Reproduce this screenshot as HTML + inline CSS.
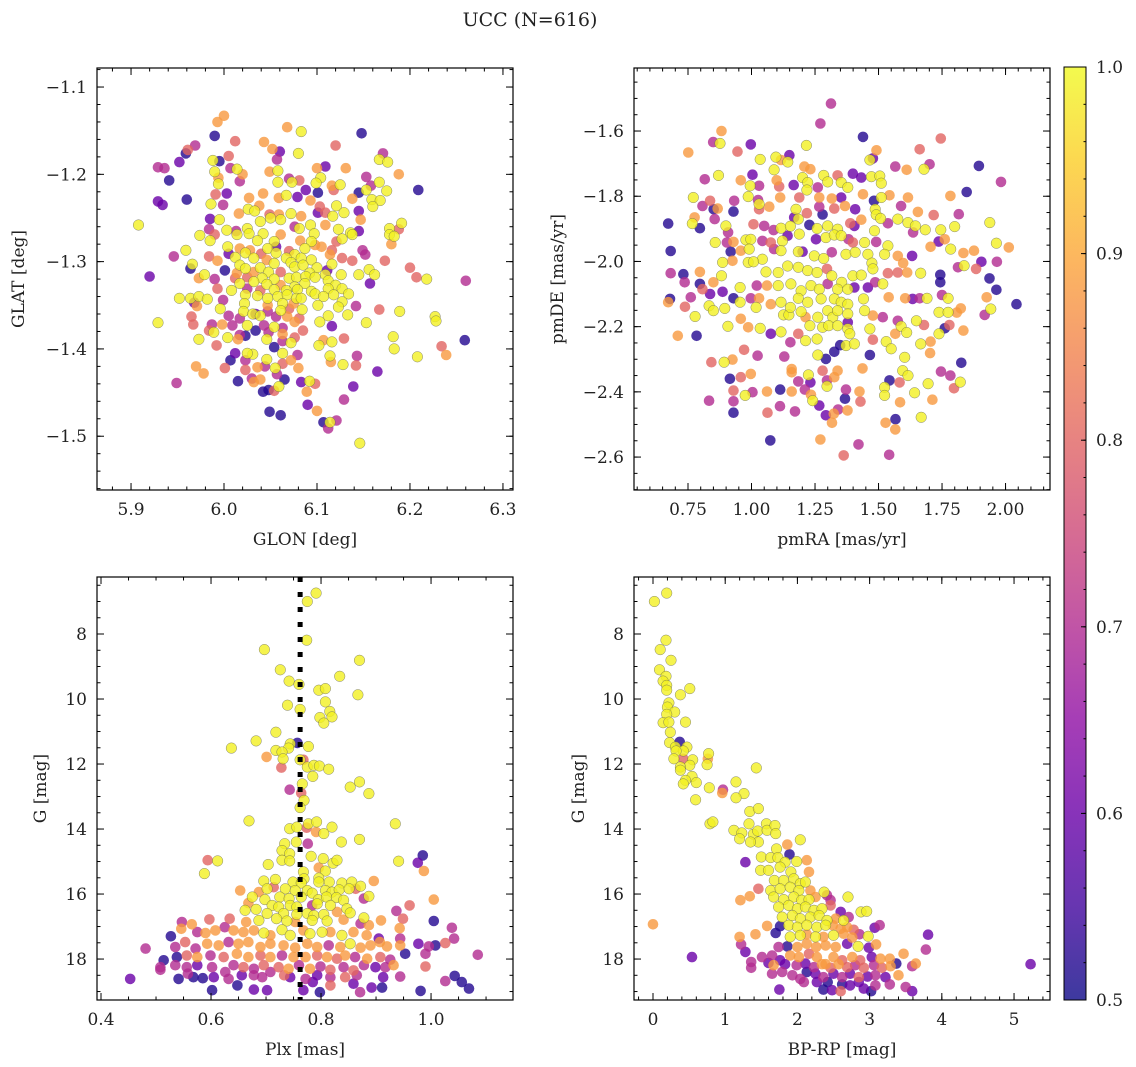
<!DOCTYPE html>
<html><head><meta charset="utf-8"><title>UCC (N=616)</title>
<style>
html,body{margin:0;padding:0;background:#fff;}
svg{display:block;font-family:"DejaVu Serif","Liberation Serif",serif;}
</style></head>
<body>
<svg id="fig" width="1136" height="1067" viewBox="0 0 1136 1067" xmlns="http://www.w3.org/2000/svg">
<rect width="1136" height="1067" fill="#fff"/>
<text x="530" y="26" font-size="19" text-anchor="middle" fill="#222">UCC (N=616)</text>
</svg>
<script>
// ---------------- data ----------------
const glon=[6.000,5.993,6.068,6.083,6.148,5.990,6.012,6.043,6.120,5.969,5.961,5.959,6.052,6.060,6.080,6.005,6.171,6.167,6.176,5.952,6.057,5.988,5.995,5.929,5.936,6.014,6.109,6.100,6.131,6.049,6.058,5.990,6.007,6.020,6.188,5.941,5.994,6.017,6.070,6.081,6.104,6.153,6.167,6.058,6.073,6.099,6.125,6.116,6.158,6.209,5.994,6.088,6.118,6.101,6.145,6.153,6.175,5.991,6.003,6.042,6.059,6.067,6.079,6.027,5.960,6.138,6.159,6.168,5.929,5.934,5.986,5.999,6.038,6.093,6.160,6.026,6.033,6.103,6.121,6.145,6.016,6.049,6.059,6.072,6.083,6.109,6.129,6.117,6.101,5.995,5.985,6.039,6.050,6.061,6.147,6.109,6.093,6.076,6.081,5.908,5.984,6.003,6.013,6.025,6.027,6.178,6.188,6.191,6.123,6.136,6.145,5.990,6.014,6.042,6.061,6.097,5.974,6.178,6.183,5.985,6.036,6.054,6.082,6.094,6.127,6.138,6.098,6.121,6.180,6.004,6.017,6.028,6.047,6.056,6.070,6.087,6.105,6.116,5.959,6.149,6.005,6.023,6.040,6.056,6.076,5.946,5.984,6.012,6.032,6.046,6.067,6.083,6.094,6.114,6.127,6.138,6.152,6.173,5.993,6.200,5.966,5.964,6.017,6.023,6.039,6.054,6.072,6.076,6.085,6.100,6.111,6.116,6.156,6.001,6.014,6.032,6.048,6.061,6.092,6.109,6.126,6.145,6.162,5.920,6.207,6.218,6.260,5.979,5.973,5.990,6.012,6.025,6.041,6.054,6.070,6.078,6.088,6.098,6.112,6.017,6.032,6.046,6.061,6.076,6.087,6.157,6.120,5.993,6.008,6.025,6.039,6.054,6.067,6.079,6.094,6.112,6.127,5.952,5.964,5.973,5.982,5.999,6.023,6.036,6.047,6.058,6.068,6.078,6.098,6.107,6.118,6.134,5.968,5.971,6.022,6.047,6.063,6.075,6.083,6.101,6.127,6.142,5.996,6.021,6.034,6.047,6.061,6.070,6.084,6.112,6.123,6.167,6.189,5.965,6.005,6.017,6.031,6.039,6.056,6.068,6.076,6.081,6.133,6.227,6.228,5.929,5.967,5.987,5.998,6.009,6.025,6.043,6.054,6.063,6.085,6.103,6.116,6.153,5.984,5.989,6.017,6.034,6.048,6.063,6.076,6.182,5.973,6.004,6.015,6.023,6.046,6.063,6.072,6.107,6.129,6.102,6.116,5.992,6.183,6.234,6.239,6.259,6.054,6.063,6.079,6.031,6.025,6.114,6.143,6.208,6.012,6.023,6.007,6.046,6.063,6.072,6.115,6.128,6.142,5.970,6.001,6.023,6.036,6.044,6.055,6.080,5.978,6.057,6.165,6.015,6.030,6.032,6.039,6.065,6.083,6.092,6.098,5.949,6.059,6.139,6.042,6.048,6.054,6.089,6.129,6.090,6.100,6.049,6.061,6.107,6.114,6.121,6.112,6.146];
const glat=[-1.133,-1.140,-1.146,-1.151,-1.153,-1.156,-1.162,-1.163,-1.167,-1.167,-1.172,-1.176,-1.171,-1.174,-1.176,-1.179,-1.176,-1.183,-1.186,-1.186,-1.183,-1.184,-1.185,-1.192,-1.193,-1.194,-1.191,-1.193,-1.193,-1.197,-1.196,-1.197,-1.193,-1.200,-1.200,-1.207,-1.204,-1.208,-1.205,-1.207,-1.204,-1.203,-1.209,-1.209,-1.209,-1.210,-1.212,-1.213,-1.213,-1.218,-1.211,-1.218,-1.218,-1.221,-1.221,-1.218,-1.219,-1.223,-1.222,-1.222,-1.227,-1.224,-1.226,-1.227,-1.229,-1.228,-1.229,-1.230,-1.231,-1.235,-1.234,-1.235,-1.236,-1.230,-1.237,-1.240,-1.242,-1.237,-1.236,-1.242,-1.245,-1.246,-1.246,-1.245,-1.248,-1.244,-1.244,-1.248,-1.244,-1.252,-1.251,-1.254,-1.250,-1.252,-1.252,-1.258,-1.258,-1.260,-1.262,-1.258,-1.263,-1.264,-1.265,-1.262,-1.268,-1.262,-1.263,-1.256,-1.263,-1.267,-1.265,-1.269,-1.269,-1.268,-1.269,-1.268,-1.270,-1.269,-1.271,-1.276,-1.276,-1.277,-1.276,-1.277,-1.274,-1.269,-1.281,-1.277,-1.280,-1.283,-1.285,-1.287,-1.285,-1.283,-1.288,-1.285,-1.283,-1.287,-1.287,-1.287,-1.291,-1.290,-1.291,-1.290,-1.292,-1.294,-1.294,-1.295,-1.296,-1.298,-1.296,-1.296,-1.298,-1.292,-1.296,-1.299,-1.292,-1.299,-1.299,-1.307,-1.303,-1.308,-1.304,-1.308,-1.307,-1.302,-1.301,-1.306,-1.304,-1.307,-1.310,-1.303,-1.309,-1.310,-1.313,-1.312,-1.312,-1.312,-1.313,-1.315,-1.315,-1.315,-1.315,-1.317,-1.318,-1.320,-1.322,-1.315,-1.319,-1.320,-1.319,-1.318,-1.319,-1.320,-1.319,-1.318,-1.317,-1.318,-1.322,-1.325,-1.323,-1.326,-1.327,-1.329,-1.325,-1.325,-1.327,-1.331,-1.333,-1.331,-1.333,-1.332,-1.333,-1.332,-1.334,-1.331,-1.331,-1.342,-1.342,-1.340,-1.343,-1.344,-1.338,-1.339,-1.342,-1.340,-1.338,-1.342,-1.337,-1.340,-1.338,-1.337,-1.347,-1.351,-1.348,-1.350,-1.348,-1.348,-1.342,-1.350,-1.346,-1.351,-1.354,-1.357,-1.360,-1.357,-1.356,-1.354,-1.355,-1.362,-1.352,-1.355,-1.357,-1.363,-1.362,-1.365,-1.360,-1.362,-1.363,-1.363,-1.369,-1.365,-1.361,-1.363,-1.368,-1.370,-1.372,-1.372,-1.372,-1.373,-1.373,-1.373,-1.375,-1.376,-1.379,-1.369,-1.374,-1.370,-1.379,-1.381,-1.384,-1.379,-1.381,-1.383,-1.387,-1.386,-1.389,-1.387,-1.389,-1.385,-1.389,-1.391,-1.393,-1.390,-1.388,-1.396,-1.392,-1.396,-1.400,-1.397,-1.407,-1.390,-1.398,-1.405,-1.407,-1.406,-1.405,-1.408,-1.408,-1.409,-1.405,-1.413,-1.413,-1.412,-1.417,-1.413,-1.415,-1.418,-1.419,-1.420,-1.422,-1.424,-1.421,-1.420,-1.422,-1.422,-1.428,-1.429,-1.426,-1.437,-1.434,-1.438,-1.435,-1.435,-1.438,-1.437,-1.440,-1.439,-1.443,-1.443,-1.449,-1.447,-1.448,-1.449,-1.458,-1.464,-1.471,-1.472,-1.476,-1.484,-1.484,-1.482,-1.491,-1.508];
const probPos=[.88,.88,.88,.99,.52,.52,.8,.88,.8,.7,.8,.52,.88,.6,.99,.8,.7,.99,.99,.6,.7,.99,.52,.7,.7,.99,.6,.88,.88,.88,.99,.99,.7,.88,.88,.52,.88,.7,.7,.8,.99,.7,.99,.99,.99,.99,.99,.88,.7,.52,.99,.6,.8,.52,.52,.99,.99,.8,.6,.88,.88,.99,.6,.88,.52,.88,.99,.99,.6,.6,.99,.7,.88,.88,.99,.99,.99,.8,.99,.6,.88,.8,.88,.99,.88,.8,.99,.99,.6,.99,.6,.99,.99,.99,.88,.88,.99,.7,.99,.99,.7,.99,.7,.99,.99,.99,.8,.99,.99,.99,.6,.8,.99,.99,.88,.99,.99,.99,.99,.99,.99,.99,.88,.99,.99,.99,.88,.8,.88,.99,.88,.88,.99,.6,.8,.99,.88,.8,.99,.7,.6,.99,.8,.99,.99,.7,.8,.99,.99,.88,.99,.99,.99,.88,.8,.8,.7,.8,.88,.8,.99,.52,.99,.99,.99,.99,.99,.99,.99,.99,.6,.99,.99,.52,.88,.88,.99,.8,.99,.99,.99,.99,.99,.6,.8,.99,.7,.99,.88,.7,.8,.8,.99,.99,.99,.99,.99,.99,.99,.99,.99,.99,.88,.99,.99,.6,.99,.8,.99,.7,.8,.99,.99,.99,.99,.99,.99,.99,.99,.99,.99,.7,.99,.99,.99,.99,.99,.99,.99,.99,.99,.99,.6,.88,.99,.88,.99,.88,.99,.99,.99,.7,.99,.99,.6,.7,.99,.8,.99,.99,.99,.8,.99,.8,.7,.7,.99,.99,.7,.88,.88,.8,.99,.99,.99,.99,.8,.7,.88,.7,.99,.7,.99,.7,.8,.99,.6,.99,.8,.99,.7,.52,.7,.88,.8,.99,.99,.99,.88,.52,.99,.7,.99,.88,.8,.99,.99,.8,.99,.8,.88,.52,.52,.99,.7,.99,.99,.99,.7,.99,.6,.7,.52,.99,.8,.88,.88,.99,.8,.88,.8,.8,.88,.7,.99,.88,.88,.7,.6,.52,.7,.88,.88,.52,.6,.99,.8,.7,.99,.6,.52,.52,.8,.88,.7,.6,.88,.52,.52,.52,.99,.7,.7,.99,.99,.99,.8];

const pmra=[1.313,1.271,0.882,1.439,1.745,0.849,0.876,0.751,0.997,1.216,0.945,1.096,1.149,1.116,1.143,1.034,1.492,1.662,1.478,1.466,1.701,1.566,1.611,1.679,1.895,1.208,1.232,1.089,0.870,0.816,1.004,1.099,1.201,1.284,1.339,1.399,1.432,1.472,1.505,1.511,1.982,0.958,0.995,1.030,1.109,1.166,1.221,1.300,1.261,1.353,1.379,0.771,0.837,0.932,0.987,1.026,1.113,1.188,1.218,1.267,1.316,1.353,1.439,1.482,1.511,1.543,1.616,1.783,1.847,0.807,0.851,0.867,0.929,1.030,1.070,1.030,1.175,1.218,1.280,1.267,1.326,1.368,1.408,1.487,1.589,1.655,1.717,1.816,0.672,0.776,0.855,0.767,0.797,0.899,1.008,1.050,1.087,1.116,1.153,1.184,1.168,1.228,1.258,1.300,1.339,1.389,1.405,1.432,1.491,1.508,1.484,1.537,1.576,1.616,1.645,1.636,1.684,1.745,1.800,1.938,0.908,0.857,0.903,0.929,0.978,0.997,1.043,1.076,1.122,1.142,1.188,1.254,1.293,1.326,1.353,1.382,1.399,1.445,1.491,1.537,1.705,1.737,1.761,1.784,1.964,2.013,0.682,0.918,0.958,0.991,1.043,1.089,1.116,1.184,1.201,1.247,1.284,1.316,1.372,1.408,1.458,1.474,1.524,1.576,1.597,1.632,1.834,1.876,1.905,1.966,1.813,1.837,0.886,0.925,0.987,1.008,0.682,0.732,0.797,0.882,1.057,1.105,1.142,1.184,1.221,1.258,1.297,1.316,1.355,1.399,1.432,1.478,1.537,1.576,1.613,1.666,1.743,1.743,1.884,1.937,0.737,0.797,0.850,0.955,1.021,1.061,1.105,1.155,1.195,1.234,1.267,1.300,1.339,1.379,1.405,1.458,1.487,1.517,1.964,0.761,0.807,0.837,0.886,0.929,0.955,0.997,1.030,1.076,1.116,1.184,1.221,1.274,1.326,1.353,1.379,1.441,1.540,1.605,1.634,1.662,1.691,1.750,1.774,1.926,2.043,0.672,0.679,0.738,0.833,0.850,0.895,1.018,1.126,1.147,1.153,1.195,1.213,1.261,1.300,1.320,1.339,1.379,1.445,1.478,1.517,1.576,1.649,1.738,1.774,1.824,1.918,1.942,1.808,0.778,0.710,0.784,0.907,0.987,0.958,1.034,1.076,1.116,1.153,1.184,1.213,1.230,1.258,1.280,1.304,1.339,1.379,1.372,1.379,1.405,1.387,1.466,1.478,1.566,1.589,1.611,1.679,1.761,1.779,1.834,1.666,1.705,1.738,0.971,1.024,1.129,1.261,1.293,1.326,1.349,1.466,1.530,1.550,1.603,1.703,1.826,0.842,0.892,0.925,1.158,1.224,1.280,1.339,1.437,1.595,1.616,1.746,1.783,0.915,0.958,0.997,1.158,1.184,1.232,1.297,1.326,1.543,1.583,1.695,1.822,1.797,0.929,1.004,1.113,1.061,1.158,1.210,1.297,1.372,1.425,1.524,1.524,1.642,0.833,0.929,0.975,1.234,1.241,1.368,1.429,1.585,1.712,0.929,1.063,1.112,1.171,1.267,1.293,1.324,1.341,1.378,1.317,1.528,1.567,1.566,1.668,1.074,1.271,1.363,1.421,1.542];
const pmde=[-1.516,-1.577,-1.600,-1.618,-1.623,-1.634,-1.638,-1.666,-1.641,-1.644,-1.663,-1.680,-1.674,-1.689,-1.695,-1.687,-1.659,-1.656,-1.684,-1.689,-1.702,-1.709,-1.719,-1.717,-1.707,-1.709,-1.717,-1.719,-1.736,-1.748,-1.734,-1.751,-1.743,-1.736,-1.736,-1.731,-1.743,-1.740,-1.738,-1.760,-1.756,-1.751,-1.768,-1.768,-1.770,-1.766,-1.758,-1.756,-1.773,-1.758,-1.773,-1.804,-1.814,-1.814,-1.801,-1.812,-1.804,-1.804,-1.781,-1.804,-1.807,-1.804,-1.794,-1.814,-1.804,-1.797,-1.804,-1.799,-1.787,-1.830,-1.840,-1.838,-1.847,-1.824,-1.832,-1.840,-1.840,-1.852,-1.856,-1.832,-1.838,-1.830,-1.840,-1.840,-1.830,-1.848,-1.858,-1.855,-1.884,-1.865,-1.870,-1.884,-1.898,-1.891,-1.886,-1.891,-1.904,-1.898,-1.892,-1.870,-1.865,-1.888,-1.899,-1.891,-1.901,-1.883,-1.891,-1.872,-1.857,-1.868,-1.906,-1.883,-1.870,-1.881,-1.891,-1.911,-1.903,-1.903,-1.893,-1.881,-1.911,-1.942,-1.942,-1.940,-1.934,-1.932,-1.937,-1.942,-1.937,-1.921,-1.916,-1.932,-1.927,-1.919,-1.921,-1.932,-1.942,-1.942,-1.940,-1.952,-1.955,-1.939,-1.932,-1.962,-1.944,-1.957,-1.968,-1.970,-1.967,-1.962,-1.993,-1.962,-1.967,-1.970,-1.970,-1.983,-1.991,-1.972,-1.978,-1.972,-1.978,-2.005,-1.978,-1.983,-2.005,-1.983,-1.974,-1.967,-2.001,-2.001,-2.018,-2.013,-2.003,-1.998,-2.003,-2.001,-2.036,-2.039,-2.032,-2.044,-2.032,-2.034,-2.014,-2.018,-2.028,-2.034,-2.023,-2.044,-2.064,-2.044,-2.042,-2.023,-2.036,-2.034,-2.034,-2.036,-2.041,-2.064,-2.023,-2.052,-2.064,-2.069,-2.064,-2.080,-2.074,-2.074,-2.074,-2.069,-2.090,-2.074,-2.085,-2.069,-2.085,-2.085,-2.080,-2.080,-2.064,-2.069,-2.087,-2.110,-2.085,-2.100,-2.093,-2.113,-2.125,-2.113,-2.113,-2.131,-2.125,-2.113,-2.125,-2.115,-2.115,-2.125,-2.131,-2.115,-2.110,-2.113,-2.115,-2.113,-2.113,-2.103,-2.113,-2.110,-2.131,-2.125,-2.115,-2.139,-2.136,-2.151,-2.144,-2.141,-2.164,-2.164,-2.141,-2.154,-2.171,-2.171,-2.151,-2.171,-2.151,-2.161,-2.151,-2.166,-2.171,-2.182,-2.182,-2.156,-2.156,-2.144,-2.164,-2.146,-2.157,-2.169,-2.228,-2.228,-2.199,-2.202,-2.176,-2.205,-2.222,-2.216,-2.248,-2.222,-2.243,-2.197,-2.238,-2.202,-2.197,-2.197,-2.207,-2.258,-2.187,-2.253,-2.222,-2.207,-2.240,-2.222,-2.199,-2.218,-2.195,-2.205,-2.195,-2.212,-2.253,-2.246,-2.222,-2.271,-2.289,-2.292,-2.287,-2.299,-2.277,-2.257,-2.287,-2.246,-2.268,-2.294,-2.281,-2.311,-2.309,-2.309,-2.301,-2.330,-2.348,-2.335,-2.335,-2.328,-2.335,-2.350,-2.338,-2.350,-2.360,-2.355,-2.345,-2.340,-2.368,-2.371,-2.365,-2.355,-2.365,-2.371,-2.375,-2.370,-2.389,-2.396,-2.401,-2.393,-2.399,-2.399,-2.393,-2.383,-2.393,-2.399,-2.386,-2.411,-2.403,-2.427,-2.429,-2.411,-2.409,-2.427,-2.421,-2.430,-2.432,-2.424,-2.464,-2.464,-2.444,-2.460,-2.442,-2.472,-2.467,-2.454,-2.457,-2.495,-2.495,-2.484,-2.515,-2.478,-2.549,-2.546,-2.595,-2.561,-2.593];
const probPm=[.7,.7,.88,.52,.8,.7,.99,.88,.6,.99,.8,.99,.6,.88,.99,.99,.88,.8,.6,.99,.7,.7,.88,.99,.52,.88,.88,.99,.99,.7,.6,.88,.99,.99,.8,.6,.6,.99,.99,.99,.7,.88,.99,.7,.8,.6,.99,.99,.7,.99,.99,.99,.8,.7,.99,.7,.88,.8,.99,.88,.88,.6,.88,.52,.99,.88,.88,.88,.52,.7,.52,.88,.52,.99,.88,.8,.99,.8,.52,.7,.8,.88,.6,.99,.7,.88,.8,.7,.52,.88,.7,.99,.52,.99,.8,.7,.7,.99,.99,.99,.6,.52,.99,.99,.99,.8,.6,.88,.99,.99,.99,.7,.99,.99,.99,.7,.99,.99,.99,.99,.7,.99,.7,.88,.99,.99,.7,.8,.99,.6,.99,.6,.99,.99,.99,.7,.8,.99,.7,.99,.88,.6,.88,.99,.99,.88,.52,.52,.88,.99,.99,.7,.99,.99,.6,.99,.99,.7,.99,.99,.99,.99,.99,.88,.88,.6,.88,.88,.6,.7,.7,.99,.99,.88,.99,.99,.7,.52,.88,.99,.99,.99,.99,.99,.99,.99,.8,.99,.99,.99,.99,.99,.8,.8,.88,.99,.52,.52,.8,.52,.7,.52,.88,.99,.7,.88,.99,.99,.99,.99,.99,.7,.99,.99,.6,.6,.7,.99,.52,.7,.8,.6,.6,.52,.99,.7,.88,.88,.99,.99,.99,.99,.99,.99,.99,.99,.88,.88,.6,.7,.99,.7,.99,.88,.52,.88,.52,.8,.99,.99,.99,.99,.99,.99,.99,.99,.88,.99,.99,.99,.99,.99,.99,.88,.7,.7,.99,.99,.99,.88,.7,.99,.88,.99,.88,.52,.99,.88,.88,.99,.6,.99,.7,.8,.99,.99,.99,.99,.99,.99,.99,.99,.6,.99,.99,.99,.8,.88,.99,.99,.8,.52,.8,.88,.99,.88,.99,.8,.7,.7,.99,.52,.52,.52,.52,.99,.99,.99,.88,.52,.8,.99,.88,.88,.99,.8,.88,.88,.99,.99,.7,.7,.52,.8,.88,.88,.7,.6,.7,.88,.52,.8,.99,.99,.8,.8,.7,.52,.88,.88,.7,.99,.7,.88,.99,.99,.99,.7,.7,.99,.88,.99,.52,.8,.88,.88,.52,.8,.7,.7,.6,.6,.88,.7,.88,.88,.88,.52,.88,.99,.52,.88,.8,.7,.7];

const plx=[0.791,0.775,0.774,0.697,0.870,0.726,0.834,0.742,0.760,0.796,0.808,0.867,0.739,0.808,0.762,0.816,0.820,0.798,0.805,0.718,0.682,0.757,0.744,0.637,0.718,0.741,0.729,0.777,0.701,0.731,0.762,0.768,0.728,0.775,0.787,0.797,0.814,0.785,0.743,0.766,0.853,0.870,0.887,0.764,0.769,0.762,0.669,0.743,0.756,0.777,0.792,0.774,0.791,0.805,0.820,0.935,0.755,0.776,0.837,0.870,0.734,0.729,0.743,0.782,0.729,0.743,0.594,0.612,0.804,0.822,0.829,0.941,0.985,0.976,0.704,0.796,0.588,0.768,0.808,0.987,0.769,0.796,0.696,0.717,0.749,0.764,0.796,0.815,0.838,0.856,0.896,0.872,0.653,0.687,0.702,0.714,0.735,0.753,0.775,0.784,0.808,0.820,0.833,0.851,0.863,0.887,0.878,1.005,0.675,0.698,0.725,0.742,0.764,0.795,0.810,0.828,0.841,0.668,0.711,0.723,0.744,0.756,0.784,0.793,0.817,0.847,0.961,0.937,0.662,0.682,0.702,0.732,0.756,0.775,0.787,0.805,0.829,0.853,0.878,0.949,0.909,1.005,0.547,0.597,0.634,0.565,0.664,0.687,0.719,0.738,0.753,0.784,0.811,0.841,0.872,0.887,1.038,0.943,0.527,0.546,0.575,0.590,0.608,0.625,0.641,0.659,0.678,0.696,0.708,0.729,0.744,0.768,0.780,0.802,0.817,0.838,0.859,0.883,0.905,0.944,1.042,0.481,0.514,0.508,0.535,0.553,0.572,0.593,0.614,0.632,0.650,0.668,0.690,0.708,0.732,0.753,0.775,0.793,0.814,0.835,0.853,0.872,0.890,0.907,0.920,0.944,0.953,0.977,0.996,1.008,1.026,0.990,1.085,0.538,0.556,0.575,0.599,0.623,0.647,0.668,0.690,0.708,0.729,0.750,0.772,0.793,0.811,0.829,0.844,0.862,0.884,0.908,0.926,0.932,0.508,0.535,0.556,0.575,0.602,0.626,0.641,0.659,0.678,0.696,0.708,0.723,0.741,0.760,0.780,0.799,0.817,0.841,0.859,0.878,0.899,0.917,0.990,0.453,0.541,0.558,0.568,0.585,0.605,0.632,0.656,0.678,0.693,0.733,0.744,0.772,0.793,0.817,0.844,0.865,0.913,0.944,1.026,1.043,1.056,0.602,0.648,0.678,0.702,0.768,0.785,0.798,0.817,0.859,0.871,0.892,0.911,0.981,1.069];
const gmagA=[6.74,7.00,8.19,8.48,8.81,9.10,9.30,9.45,9.55,9.73,9.68,9.87,10.19,10.09,10.32,10.38,10.55,10.57,10.74,11.02,11.29,11.35,11.38,11.51,11.58,11.51,11.63,11.46,11.78,11.84,11.87,11.87,12.11,12.09,12.04,12.06,12.16,12.38,12.79,12.61,12.71,12.55,12.91,12.89,13.12,13.34,13.75,13.99,13.94,13.84,13.78,13.96,14.09,14.14,13.94,13.84,14.40,14.45,14.40,14.32,14.45,14.66,14.76,14.84,14.96,14.98,14.96,14.98,14.91,15.05,14.96,14.99,14.81,15.04,15.09,15.19,15.37,15.32,15.29,15.29,15.53,15.51,15.60,15.55,15.63,15.66,15.63,15.63,15.66,15.63,15.60,15.76,15.89,15.94,15.84,15.79,15.84,15.89,15.89,15.97,15.89,15.94,15.87,15.84,15.84,16.07,16.14,16.17,16.09,16.17,16.09,16.14,16.09,16.17,16.09,16.11,16.19,16.28,16.35,16.40,16.35,16.40,16.35,16.30,16.35,16.45,16.35,16.52,16.50,16.47,16.60,16.60,16.63,16.60,16.66,16.63,16.55,16.58,16.73,16.76,16.81,16.83,16.86,16.78,16.76,16.93,16.86,16.81,16.76,16.83,16.86,16.81,16.83,16.79,16.91,16.96,17.04,17.05,17.30,17.07,17.17,17.20,17.12,17.02,17.12,17.17,17.12,17.20,17.27,17.10,17.27,17.12,17.22,17.17,17.17,17.27,17.17,17.27,17.37,17.37,17.37,17.68,18.04,18.25,17.63,17.48,17.68,17.53,17.58,17.48,17.53,17.48,17.63,17.53,17.58,17.65,17.53,17.63,17.58,17.63,17.53,17.65,17.58,17.48,17.61,17.58,17.84,17.53,17.61,17.58,17.51,17.84,17.87,17.94,17.89,17.94,17.89,17.94,17.84,17.94,17.89,17.94,17.89,17.94,17.94,17.89,17.94,17.99,17.89,17.94,17.99,17.94,18.02,18.19,18.33,18.19,18.25,18.19,18.25,18.40,18.19,18.25,18.30,18.19,18.40,18.25,18.30,18.19,18.30,18.23,18.33,18.25,18.35,18.19,18.25,18.25,18.23,18.61,18.61,18.45,18.56,18.59,18.56,18.61,18.50,18.50,18.56,18.50,18.56,18.61,18.50,18.56,18.56,18.50,18.56,18.54,18.68,18.52,18.71,18.96,18.81,18.94,18.96,18.96,18.71,19.02,18.81,18.76,19.02,18.88,18.88,18.98,18.91];
const probPlx=[.99,.99,.99,.99,.99,.99,.99,.99,.99,.99,.99,.99,.99,.99,.99,.99,.99,.99,.99,.99,.99,.52,.99,.99,.99,.99,.99,.99,.88,.99,.99,.8,.8,.99,.99,.99,.99,.99,.7,.99,.99,.99,.99,.8,.99,.99,.99,.99,.99,.99,.99,.8,.88,.99,.99,.99,.99,.7,.99,.99,.99,.99,.99,.99,.99,.99,.8,.99,.99,.99,.99,.99,.52,.6,.99,.88,.99,.99,.99,.88,.99,.99,.99,.99,.99,.99,.99,.99,.99,.99,.88,.99,.88,.88,.99,.8,.99,.99,.99,.99,.99,.99,.99,.99,.8,.99,.7,.88,.99,.99,.99,.99,.99,.99,.99,.99,.99,.88,.99,.99,.99,.99,.7,.99,.99,.99,.8,.7,.99,.99,.99,.99,.99,.99,.99,.99,.88,.99,.99,.8,.88,.52,.7,.8,.8,.88,.88,.99,.99,.99,.88,.99,.99,.88,.7,.88,.7,.88,.52,.88,.7,.88,.88,.7,.88,.88,.88,.99,.88,.99,.99,.88,.99,.99,.88,.99,.88,.88,.6,.7,.7,.7,.52,.7,.7,.8,.7,.88,.88,.7,.88,.88,.88,.88,.88,.88,.88,.88,.7,.88,.99,.88,.88,.88,.88,.88,.52,.6,.7,.52,.8,.7,.7,.52,.8,.88,.7,.8,.88,.88,.8,.88,.7,.88,.88,.8,.88,.8,.88,.7,.88,.8,.7,.88,.7,.7,.7,.6,.7,.7,.7,.8,.7,.8,.7,.8,.88,.7,.88,.7,.8,.7,.8,.7,.6,.7,.8,.6,.52,.7,.52,.52,.6,.7,.6,.7,.7,.8,.6,.7,.6,.7,.8,.7,.6,.7,.7,.52,.52,.52,.52,.6,.6,.6,.6,.52,.8,.6,.7,.6,.52,.52,.52,.52];

const bprp=[0.02,0.19,0.18,0.10,0.25,0.09,0.18,0.14,0.19,0.51,0.19,0.38,0.22,0.20,0.30,0.19,0.14,0.22,0.45,0.24,0.23,0.37,0.31,0.47,0.42,0.32,0.77,0.29,0.42,0.55,0.76,0.75,0.51,0.38,0.38,1.43,0.54,0.45,0.60,0.42,0.78,1.15,0.97,0.96,1.26,1.15,0.59,1.34,1.46,0.79,0.83,1.12,1.23,1.20,1.33,1.39,1.45,1.46,1.35,1.57,1.58,1.69,1.70,2.04,1.86,1.28,1.50,1.63,1.71,1.73,1.89,1.83,1.99,2.13,1.49,1.60,1.76,1.91,2.16,1.68,1.81,1.95,2.04,2.11,1.46,1.63,1.76,1.90,2.02,2.18,2.37,1.21,1.34,1.67,1.81,1.95,2.06,2.16,2.25,2.41,2.46,2.70,1.74,1.88,2.00,2.11,2.23,2.34,2.46,2.60,2.88,2.96,1.79,1.93,2.04,2.18,2.30,2.41,2.53,2.64,2.71,0.00,1.58,1.76,1.88,2.00,2.13,2.27,2.39,2.49,2.60,2.69,2.78,3.07,3.14,3.81,1.20,1.42,1.70,1.90,2.04,2.13,2.25,2.36,2.50,2.64,2.76,2.86,2.98,1.22,1.74,1.86,2.00,2.13,2.26,2.39,2.53,2.69,2.84,2.99,3.09,3.78,1.28,1.51,1.65,1.76,1.90,2.02,2.16,2.27,2.39,2.50,2.62,2.76,2.87,3.03,3.15,3.28,3.37,3.47,3.64,0.54,1.36,1.36,1.60,1.67,1.83,1.99,2.11,2.23,2.34,2.46,2.57,2.69,2.80,2.92,3.06,3.17,3.29,3.40,3.59,5.23,1.65,1.79,1.93,2.04,2.13,2.25,2.36,2.50,2.62,2.73,2.85,2.97,3.08,3.22,3.28,3.50,3.59,1.75,2.09,2.27,2.36,2.42,2.48,2.60,2.62,2.73,2.85,2.92,3.02,3.08];
const gmagB=[7.00,6.74,8.19,8.48,8.81,9.10,9.30,9.45,9.58,9.68,9.73,9.87,10.12,10.25,10.40,10.47,10.73,10.71,10.71,11.02,11.34,11.32,11.48,11.48,11.60,11.60,11.68,11.84,11.84,11.87,11.84,12.02,12.04,12.09,12.19,12.12,12.38,12.50,12.57,12.61,12.73,12.55,12.79,12.89,12.91,13.04,13.10,13.46,13.37,13.84,13.78,14.04,14.12,14.30,13.84,14.16,14.06,14.40,14.40,13.84,14.04,13.89,14.14,14.33,14.48,15.02,14.86,14.88,14.61,14.88,14.78,15.02,15.00,14.96,15.27,15.27,15.17,15.32,15.32,15.58,15.58,15.53,15.68,15.63,15.84,15.89,15.84,15.79,15.89,15.89,15.94,16.19,16.07,16.09,16.17,16.09,16.19,16.17,16.09,16.04,16.19,16.09,16.40,16.35,16.45,16.40,16.50,16.45,16.35,16.55,16.55,16.53,16.71,16.66,16.76,16.71,16.66,16.81,16.76,16.81,16.71,16.93,16.98,16.99,16.96,17.02,16.96,17.02,16.96,16.96,17.07,17.02,17.10,17.04,16.96,17.25,17.32,17.24,17.20,17.32,17.27,17.24,17.32,17.32,17.27,17.22,17.34,17.24,17.30,17.55,17.63,17.61,17.63,17.53,17.63,17.58,17.63,17.53,17.61,17.65,17.55,17.71,17.78,17.94,17.89,18.04,17.89,17.94,17.84,17.94,18.16,17.94,18.04,17.94,18.04,17.94,17.99,17.99,18.14,17.84,18.14,17.94,18.09,18.27,18.12,18.19,18.16,18.19,18.14,18.25,18.16,18.27,18.16,18.25,18.19,18.27,18.19,18.27,18.22,18.50,18.22,18.16,18.45,18.40,18.50,18.61,18.40,18.45,18.56,18.45,18.56,18.45,18.56,18.54,18.50,18.56,18.78,18.86,18.99,18.94,18.71,18.71,18.94,18.71,18.96,18.99,18.78,18.81,18.71,18.91,18.99,18.81];
const probCmd=[.99,.99,.99,.99,.99,.99,.99,.99,.99,.99,.99,.99,.99,.99,.99,.99,.99,.99,.99,.99,.99,.52,.99,.99,.99,.99,.99,.99,.8,.99,.88,.99,.99,.99,.99,.99,.99,.99,.99,.99,.99,.99,.7,.88,.99,.99,.99,.99,.99,.99,.99,.99,.99,.99,.99,.99,.99,.99,.99,.99,.99,.99,.99,.99,.88,.6,.99,.99,.99,.99,.52,.99,.99,.88,.99,.99,.99,.99,.88,.99,.99,.99,.99,.99,.8,.99,.99,.99,.99,.88,.99,.88,.88,.99,.99,.99,.99,.99,.88,.7,.7,.99,.99,.99,.99,.99,.99,.99,.8,.6,.99,.99,.99,.99,.99,.99,.99,.99,.88,.99,.7,.88,.88,.52,.99,.99,.99,.99,.99,.88,.88,.88,.8,.6,.7,.6,.88,.88,.52,.99,.99,.88,.99,.88,.99,.88,.88,.7,.99,.7,.7,.52,.88,.88,.88,.88,.88,.6,.99,.6,.88,.7,.6,.7,.7,.6,.88,.88,.8,.88,.88,.88,.8,.88,.8,.6,.88,.88,.52,.88,.88,.6,.7,.7,.6,.88,.6,.7,.6,.7,.88,.8,.88,.8,.7,.8,.7,.8,.88,.88,.7,.6,.7,.7,.7,.7,.52,.6,.7,.6,.7,.6,.8,.6,.7,.6,.7,.7,.6,.6,.7,.6,.52,.52,.6,.8,.52,.6,.6,.6,.52,.7];

const xTicks1=[5.9,6.0,6.1,6.2,6.3], yTicks1=[-1.1,-1.2,-1.3,-1.4,-1.5];
const xTicks2=[0.75,1.00,1.25,1.50,1.75,2.00], yTicks2=[-1.6,-1.8,-2.0,-2.2,-2.4,-2.6];
const xTicks3=[0.4,0.6,0.8,1.0], yTicksG=[8,10,12,14,16,18];
const xTicks4=[0,1,2,3,4,5];
const cbTicks=[0.5,0.6,0.7,0.8,0.9,1.0];
const plxLine=0.762;

// ---------------- drawing ----------------
const NS="http://www.w3.org/2000/svg";
const svg=document.getElementById('fig');
function el(tag,attrs,parent){const e=document.createElementNS(NS,tag);for(const k in attrs)e.setAttribute(k,attrs[k]);(parent||svg).appendChild(e);return e;}
const stops=[[13,8,135],[65,4,157],[106,0,168],[143,13,164],[177,42,144],[204,71,120],[225,100,98],[242,132,75],[252,166,54],[252,206,37],[240,249,33]];
function plasma(t){t=Math.max(0,Math.min(1,t));const f=t*10,i=Math.min(9,Math.floor(f)),u=f-i;const a=stops[i],b=stops[i+1];return 'rgb('+a.map((v,k)=>Math.round(v+(b[k]-v)*u)).join(',')+')';}
function cnorm(p){return (p-0.5)/0.5;}
function fmt(v,d){const s=Math.abs(v).toFixed(d);return (v<0?'\u2212':'')+s;}

function panel(name,c,xs,ys,ps,xt,yt,xd,yd,xMinor,yMinor,xlab,ylab,ylabX){
  const g=el('g',{});
  
  
  const sx=v=>c.l+(v-c.x0)/(c.x1-c.x0)*(c.r-c.l);
  const sy=v=>c.b-(v-c.y0)/(c.y1-c.y0)*(c.b-c.t);
  const clip=el('clipPath',{id:'clip-'+name},g);
  el('rect',{x:c.l,y:c.t,width:c.r-c.l,height:c.b-c.t},clip);
  const pts=el('g',{'clip-path':'url(#clip-'+name+')'},g);
  
  
  const n=Math.min(xs.length,ys.length,ps.length);
  const idx=[];for(let i=0;i<n;i++)idx.push(i);
  idx.sort((a,b)=>ps[a]-ps[b]);
  idx.forEach(i=>{
    const p=ps[i];
    const cc=el('circle',{cx:sx(xs[i]).toFixed(1),cy:sy(ys[i]).toFixed(1),r:5.3,fill:plasma(cnorm(p)),'fill-opacity':0.8},pts);
    if(p>=0.93){cc.setAttribute('stroke','#555');cc.setAttribute('stroke-width','0.5');cc.setAttribute('stroke-opacity','0.7');}
    
    
  });
  if(c.vline!==undefined){
    const ln=el('line',{x1:sx(c.vline),x2:sx(c.vline),y1:c.t,y2:c.b,stroke:'#000','stroke-width':5,'stroke-dasharray':'5 10'},g);
    
    
  }
  const fr=el('rect',{x:c.l,y:c.t,width:c.r-c.l,height:c.b-c.t,fill:'none',stroke:'#000','stroke-width':1.2},g);
  
  
  const tk=el('g',{stroke:'#000','stroke-width':1},g);
  function minorRange(a,b,s){const lo=Math.min(a,b),hi=Math.max(a,b),out=[];for(let v=Math.ceil(lo/s-1e-9)*s;v<=hi+1e-9;v+=s)out.push(v);return out;}
  minorRange(c.x0,c.x1,xMinor).forEach(v=>{const x=sx(v);el('line',{x1:x,x2:x,y1:c.b,y2:c.b-3.5},tk);el('line',{x1:x,x2:x,y1:c.t,y2:c.t+3.5},tk);});
  minorRange(c.y0,c.y1,yMinor).forEach(v=>{const y=sy(v);el('line',{x1:c.l,x2:c.l+3.5,y1:y,y2:y},tk);el('line',{x1:c.r,x2:c.r-3.5,y1:y,y2:y},tk);});
  xt.forEach(v=>{const x=sx(v);el('line',{x1:x,x2:x,y1:c.b,y2:c.b-7},tk);el('line',{x1:x,x2:x,y1:c.t,y2:c.t+7},tk);
    const t=el('text',{x:x,y:c.b+25,'font-size':17,'text-anchor':'middle',fill:'#222'},g);t.textContent=fmt(v,xd);
    
    });
  yt.forEach(v=>{const y=sy(v);el('line',{x1:c.l,x2:c.l+7,y1:y,y2:y},tk);el('line',{x1:c.r,x2:c.r-7,y1:y,y2:y},tk);
    const t=el('text',{x:c.l-10,y:y+6,'font-size':17,'text-anchor':'end',fill:'#222'},g);t.textContent=fmt(v,yd);
    
    });
  const xl=el('text',{x:(c.l+c.r)/2,y:c.b+55,'font-size':17,'text-anchor':'middle',fill:'#222'},g);xl.textContent=xlab;
  
  
  const yl=el('text',{x:ylabX,y:(c.t+c.b)/2,'font-size':17,'text-anchor':'middle',fill:'#222',transform:'rotate(-90 '+ylabX+' '+((c.t+c.b)/2)+')'},g);yl.textContent=ylab;
  
  
}

panel('panel-glon-glat',{l:97,r:513,t:68,b:490,x0:5.8634,x1:6.3108,y0:-1.5616,y1:-1.0782},glon,glat,probPos,xTicks1,yTicks1,1,1,0.02,0.02,'GLON [deg]','GLAT [deg]',24);
panel('panel-pmra-pmde',{l:634,r:1050,t:68,b:490,x0:0.5374,x1:2.175,y0:-2.701,y1:-1.4067},pmra,pmde,probPm,xTicks2,yTicks2,2,1,0.05,0.05,'pmRA [mas/yr]','pmDE [mas/yr]',563);
panel('panel-plx-g',{l:97,r:513,t:577,b:1000,x0:0.3927,x1:1.149,y0:19.26,y1:6.246,vline:plxLine},plx,gmagA,probPlx,xTicks3,yTicksG,1,0,0.05,0.5,'Plx [mas]','G [mag]',46);
panel('panel-cmd',{l:634,r:1050,t:577,b:1000,x0:-0.263,x1:5.498,y0:19.26,y1:6.246},bprp,gmagB,probCmd,xTicks4,yTicksG,0,0,0.2,0.5,'BP-RP [mag]','G [mag]',584);

// colorbar
(function(){
  const cb={l:1064,r:1086,t:67,b:1000,v0:0.5,v1:1.0};
  const g=el('g',{});
  
  
  const defs=el('defs',{},g);
  const lg=el('linearGradient',{id:'cbgrad',x1:0,y1:1,x2:0,y2:0},defs);
  for(let i=0;i<=20;i++){el('stop',{offset:(i/20),'stop-color':plasma(i/20),'stop-opacity':0.8},lg);}
  el('rect',{x:cb.l,y:cb.t,width:cb.r-cb.l,height:cb.b-cb.t,fill:'url(#cbgrad)',stroke:'#000','stroke-width':1},g);
  const sy=v=>cb.b-(v-cb.v0)/(cb.v1-cb.v0)*(cb.b-cb.t);
  for(let v=0.5;v<=1.0001;v+=0.02){const y=sy(v);el('line',{x1:cb.r,x2:cb.r-2.5,y1:y,y2:y,stroke:'#000','stroke-width':1},g);}
  cbTicks.forEach(v=>{const y=sy(v);el('line',{x1:cb.r,x2:cb.r-5,y1:y,y2:y,stroke:'#000','stroke-width':1},g);
    const t=el('text',{x:cb.r+10,y:y+6,'font-size':17,fill:'#222'},g);t.textContent=v.toFixed(1);
    
    });
})();
</script>
</body></html>
